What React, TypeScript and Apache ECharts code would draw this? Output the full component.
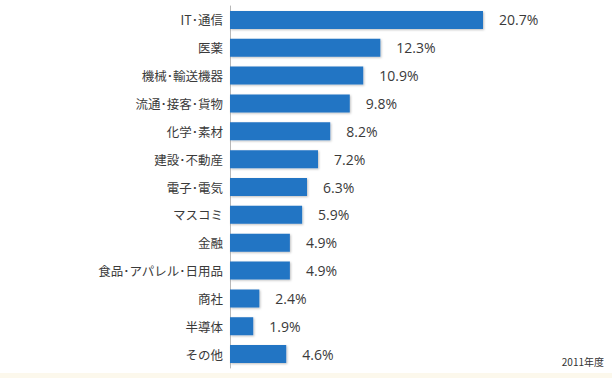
import React, { useEffect, useRef } from "react";
import * as echarts from "echarts";

const categories = [
  "IT･通信",
  "医薬",
  "機械･輸送機器",
  "流通･接客･貨物",
  "化学･素材",
  "建設･不動産",
  "電子･電気",
  "マスコミ",
  "金融",
  "食品･アパレル･日用品",
  "商社",
  "半導体",
  "その他",
];
const values = [20.7, 12.3, 10.9, 9.8, 8.2, 7.2, 6.3, 5.9, 4.9, 4.9, 2.4, 1.9, 4.6];
const footnote = "2011年度";

export default function App() {
  const ref = useRef<HTMLDivElement>(null);
  useEffect(() => {
    if (!ref.current) return;
    const chart = echarts.init(ref.current, undefined, { renderer: "svg" });
    const font = "'Noto Sans CJK JP', 'Noto Sans', sans-serif";
    chart.setOption({
      animation: false,
      backgroundColor: "#ffffff",
      textStyle: { fontFamily: font },
      grid: { left: 230, right: 129, top: 6, bottom: 10 },
      xAxis: {
        type: "value",
        min: 0,
        max: 20.7,
        show: false,
      },
      yAxis: {
        type: "category",
        data: categories,
        inverse: true,
        axisLine: { show: true, lineStyle: { color: "#b8b8b8", width: 1 } },
        axisTick: { show: false },
        axisLabel: { color: "#3a3a3a", fontSize: 12.5, margin: 7, fontFamily: font },
      },
      series: [
        {
          type: "bar",
          data: values,
          barWidth: 18,
          itemStyle: {
            color: "#2274c4",
            shadowColor: "rgba(0,0,0,0.25)",
            shadowBlur: 2,
            shadowOffsetX: 1,
            shadowOffsetY: 1,
          },
          label: {
            show: true,
            position: "right",
            distance: 16,
            formatter: (p: any) => p.value.toFixed(1) + "%",
            color: "#3a3a3a",
            fontSize: 14,
            fontFamily: "'Open Sans', 'Noto Sans', sans-serif",
          },
        },
      ],
      graphic: [
        {
          type: "rect",
          left: 0,
          bottom: 0,
          shape: { width: 612, height: 5 },
          style: { fill: "#fcf8ec" },
        },
        {
          type: "text",
          right: 8,
          top: 356,
          style: { text: footnote, fill: "#333333", fontSize: 10, fontFamily: font },
        },
      ],
    });
    return () => chart.dispose();
  }, []);
  return (
    <div
      ref={ref}
      style={{ position: "fixed", left: 0, top: 0, width: 612, height: 378 }}
    />
  );
}
